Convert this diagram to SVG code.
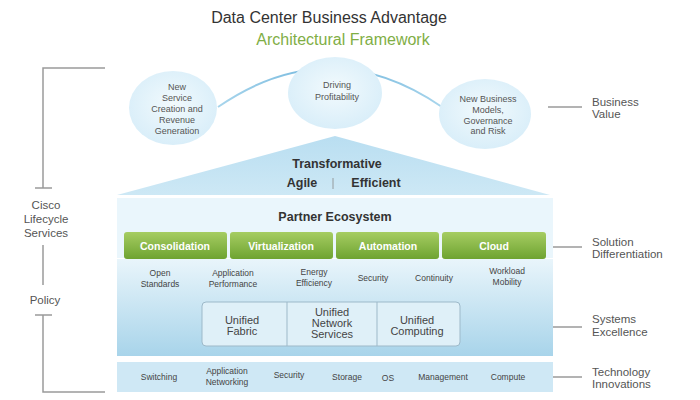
<svg xmlns="http://www.w3.org/2000/svg" width="700" height="400" viewBox="0 0 700 400">
<defs>
<radialGradient id="gCircle" cx="50%" cy="45%" r="55%">
<stop offset="0" stop-color="#f2fafd"/><stop offset="1" stop-color="#d9eef9"/>
</radialGradient>
<linearGradient id="gTri" x1="0" y1="0" x2="0" y2="1">
<stop offset="0" stop-color="#b9def1"/><stop offset="1" stop-color="#cde8f5"/>
</linearGradient>
<linearGradient id="gPanel" x1="0" y1="0" x2="0" y2="1">
<stop offset="0" stop-color="#e9f5fb"/><stop offset="1" stop-color="#a8d4ea"/>
</linearGradient>
<linearGradient id="gBtn" x1="0" y1="0" x2="0" y2="1">
<stop offset="0" stop-color="#a6cd62"/><stop offset="1" stop-color="#6ea331"/>
</linearGradient>
<linearGradient id="gArc" x1="0" y1="0" x2="1" y2="0">
<stop offset="0" stop-color="#a8d5ec"/><stop offset="0.5" stop-color="#6fb5dc"/><stop offset="1" stop-color="#a8d5ec"/>
</linearGradient>
</defs>
<style>
text{font-family:"Liberation Sans",Arial,sans-serif;text-anchor:middle}
.title{font-size:16px;fill:#333}
.sub{font-size:16px;fill:#7fae45}
.ct{font-size:9px;fill:#555}
.bold{font-size:12.5px;font-weight:bold;fill:#333}
.btn{font-size:10.5px;font-weight:bold;fill:#fff}
.feat{font-size:8.5px;fill:#444}
.uni{font-size:11px;fill:#444}
.side{font-size:11.5px;fill:#555}
.lside{font-size:11.5px;fill:#555}
.rl{text-anchor:start}
.gl{stroke:#9a9a9a;stroke-width:1.5;fill:none}
.circle{fill:url(#gCircle)}
.button{fill:url(#gBtn)}
</style>

<g id="title">
<text class="title" x="329" y="23">Data Center Business Advantage</text>
<text class="sub" x="343" y="45">Architectural Framework</text>
</g>

<g id="connectors">
<path d="M218 107 Q330 30 442 107" stroke="url(#gArc)" stroke-width="2" fill="none"/>
<path class="gl" d="M105 68 H43 V188 M35 188 H52"/>
<path class="gl" d="M43 245 V285"/>
<path class="gl" d="M35 315 H52 M43 315 V392 H105"/>
<path class="gl" d="M548 107 H582"/>
<path class="gl" d="M548 247 H582"/>
<path class="gl" d="M552 327 H582"/>
<path class="gl" d="M552 377 H582"/>
</g>

<g id="node-new-service">
<ellipse class="circle" cx="173" cy="108" rx="44" ry="37"/>
<text class="ct" x="177" y="90">New</text>
<text class="ct" x="177" y="101">Service</text>
<text class="ct" x="177" y="112">Creation and</text>
<text class="ct" x="177" y="123">Revenue</text>
<text class="ct" x="177" y="134">Generation</text>
</g>
<g id="node-driving">
<ellipse class="circle" cx="335" cy="93" rx="47" ry="36"/>
<text class="ct" x="337" y="88">Driving</text>
<text class="ct" x="337" y="100">Profitability</text>
</g>
<g id="node-new-business">
<ellipse class="circle" cx="485" cy="114" rx="46" ry="35"/>
<text class="ct" x="488" y="102">New Business</text>
<text class="ct" x="488" y="113">Models,</text>
<text class="ct" x="488" y="124">Governance</text>
<text class="ct" x="488" y="134">and Risk</text>
</g>

<g id="node-transformative">
<polygon points="335,136 117,195 550,195" fill="url(#gTri)"/>
<text class="bold" x="337" y="168">Transformative</text>
<text class="bold" x="302" y="187">Agile</text>
<line x1="333" y1="178" x2="333" y2="189" stroke="#888" stroke-width="0.8"/>
<text class="bold" x="376" y="187">Efficient</text>
</g>

<g id="node-panel">
<rect x="117" y="198" width="436" height="60" fill="#eaf6fc"/>
<rect x="117" y="259" width="436" height="97" fill="url(#gPanel)"/>
<text class="bold" x="335" y="221">Partner Ecosystem</text>
</g>

<g id="node-consolidation">
<rect class="button" x="124" y="232" width="103" height="27" rx="3"/>
<text class="btn" x="175" y="250">Consolidation</text>
</g>
<g id="node-virtualization">
<rect class="button" x="230" y="232" width="103" height="27" rx="3"/>
<text class="btn" x="281" y="250">Virtualization</text>
</g>
<g id="node-automation">
<rect class="button" x="336" y="232" width="103" height="27" rx="3"/>
<text class="btn" x="388" y="250">Automation</text>
</g>
<g id="node-cloud">
<rect class="button" x="442" y="232" width="104" height="27" rx="3"/>
<text class="btn" x="494" y="250">Cloud</text>
</g>

<g id="node-features">
<text class="feat" x="160" y="276">Open</text>
<text class="feat" x="160" y="287">Standards</text>
<text class="feat" x="233" y="276">Application</text>
<text class="feat" x="233" y="287">Performance</text>
<text class="feat" x="314" y="275">Energy</text>
<text class="feat" x="314" y="286">Efficiency</text>
<text class="feat" x="373" y="281">Security</text>
<text class="feat" x="434" y="281">Continuity</text>
<text class="feat" x="507" y="274">Workload</text>
<text class="feat" x="507" y="285">Mobility</text>
</g>

<g id="node-unified">
<rect x="202" y="302" width="258" height="44" rx="4" fill="#dff0f8" stroke="#9db9c9" stroke-width="1"/>
<line x1="287" y1="302" x2="287" y2="346" stroke="#9db9c9" stroke-width="1"/>
<line x1="377" y1="302" x2="377" y2="346" stroke="#9db9c9" stroke-width="1"/>
<text class="uni" x="242" y="324">Unified</text>
<text class="uni" x="242" y="335">Fabric</text>
<text class="uni" x="332" y="316">Unified</text>
<text class="uni" x="332" y="327">Network</text>
<text class="uni" x="332" y="338">Services</text>
<text class="uni" x="417" y="324">Unified</text>
<text class="uni" x="417" y="335">Computing</text>
</g>

<g id="node-technology">
<rect x="117" y="362" width="436" height="30" fill="#cfe8f5"/>
<text class="feat" x="159" y="380">Switching</text>
<text class="feat" x="227" y="374">Application</text>
<text class="feat" x="227" y="385">Networking</text>
<text class="feat" x="289" y="378">Security</text>
<text class="feat" x="347" y="380">Storage</text>
<text class="feat" x="388" y="381">OS</text>
<text class="feat" x="443" y="380">Management</text>
<text class="feat" x="508" y="380">Compute</text>
</g>

<g id="left-labels">
<text class="lside" x="46" y="209">Cisco</text>
<text class="lside" x="46" y="223">Lifecycle</text>
<text class="lside" x="46" y="237">Services</text>
<text class="lside" x="45" y="304">Policy</text>
</g>

<g id="right-labels">
<text class="side rl" x="592" y="106">Business</text>
<text class="side rl" x="592" y="118">Value</text>
<text class="side rl" x="592" y="246">Solution</text>
<text class="side rl" x="592" y="258">Differentiation</text>
<text class="side rl" x="592" y="323">Systems</text>
<text class="side rl" x="592" y="336">Excellence</text>
<text class="side rl" x="592" y="376">Technology</text>
<text class="side rl" x="592" y="388">Innovations</text>
</g>
</svg>
